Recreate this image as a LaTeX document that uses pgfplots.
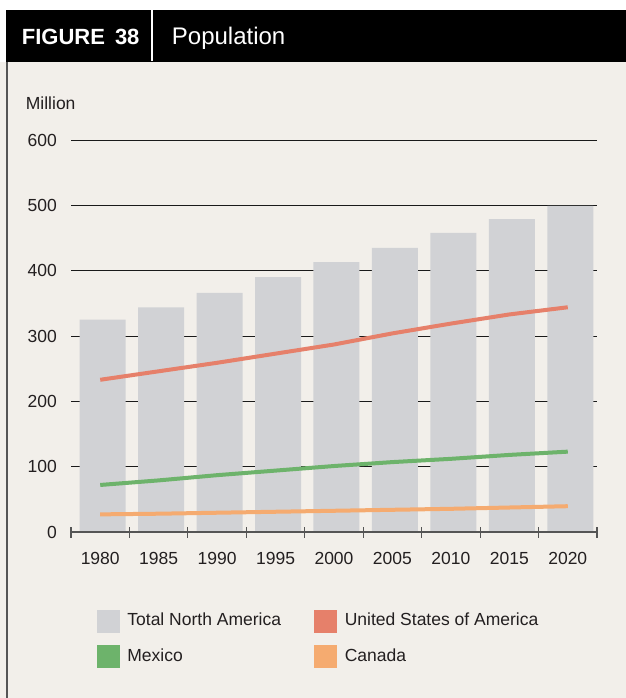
\documentclass[border=0pt]{standalone}
\usepackage{fontspec}
\setmainfont{Liberation Sans}
\usepackage{pgfplots}
\pgfplotsset{compat=1.18}
\definecolor{bg}{HTML}{F2EFEA}
\definecolor{barg}{HTML}{D1D2D5}
\definecolor{usc}{HTML}{E6806A}
\definecolor{mxc}{HTML}{6DB36B}
\definecolor{cac}{HTML}{F5AB70}
\definecolor{txt}{HTML}{231F20}
\definecolor{axisc}{HTML}{555555}
\definecolor{gridc}{HTML}{1A1A1A}
\definecolor{bordc}{HTML}{555555}
\begin{document}
\fontsize{17.5bp}{21bp}\selectfont
\begin{tikzpicture}
\useasboundingbox (0,0) rectangle (626bp,-698bp);
\fill[white] (0,0) rectangle (626bp,-698bp);
\fill[bg] (0,-62bp) rectangle (626bp,-698bp);
\fill[black] (6bp,-10bp) rectangle (626bp,-62bp);
\draw[white, line width=2bp] (151.7bp,-10bp) -- (151.7bp,-61bp);
\node[anchor=base west, inner sep=0pt, text=white, font=\fontsize{22bp}{24bp}\selectfont\bfseries] at (21.7bp,-44.3bp) {FIGURE\hspace{10bp}38};
\node[anchor=base west, inner sep=0pt, text=white, font=\fontsize{24bp}{28bp}\selectfont] at (171.7bp,-44.3bp) {Population};
\draw[bordc, line width=1.5bp] (6.75bp,-62bp) -- (6.75bp,-698bp);
\node[anchor=base west, inner sep=0pt, text=txt] at (25.7bp,-109bp) {Million};
\begin{axis}[
  scale only axis, width=526bp, height=392bp,
  at={(71bp,-532bp)}, anchor=south west,
  xmin=-0.5, xmax=8.5, ymin=0, ymax=600,
  axis x line*=bottom, axis y line*=left,
  x axis line style={draw=none},
  y axis line style={draw=none},
  xtick={0,...,8},
  xticklabels={1980,1985,1990,1995,2000,2005,2010,2015,2020},
  major tick length=0pt,
  minor xtick={-0.5,0.5,...,8.5},
  minor tick length=11bp, tick align=center,
  minor tick style={draw=axisc, line width=1.2bp},
  ytick={0,100,...,600}, ytick style={draw=none},
  ymajorgrids, grid style={draw=gridc, line width=0.9bp},
  /pgf/number format/assume math mode=true,
  tick label style={font=\fontsize{17.5bp}{21bp}\selectfont, text=txt},
  yticklabel style={anchor=east, inner sep=0pt, xshift=-14bp},
  xticklabel style={anchor=north, inner sep=0pt, yshift=-19.7bp},
  clip=false,
  legend columns=2,
  legend cell align=left,
  legend style={at={(0,0)}, anchor=north west, xshift=26bp, yshift=-77.5bp,
    draw=none, fill=none, inner sep=0pt, outer sep=0pt, row sep=13bp,
    nodes={inner sep=0pt, text=txt, font=\fontsize{17.5bp}{21bp}\selectfont},
    /tikz/every odd column/.style={column sep=8bp}},
]
\addplot[ybar, bar width=46bp, bar shift=2.5bp, fill=barg, draw=none, forget plot]
  coordinates {(0,325) (1,344) (2,366) (3,390) (4,413) (5,435) (6,458) (7,479) (8,499)};
\addplot[axisc, line width=1.5bp, mark=none, forget plot] coordinates {(-0.5,0) (8.5,0)};
\addplot[usc, line width=4bp, mark=none, forget plot]
  coordinates {(0,233) (1,246) (2,259) (3,273) (4,287) (5,304) (6,319) (7,333) (8,344)};
\addplot[mxc, line width=4bp, mark=none, forget plot]
  coordinates {(0,72) (1,79) (2,87) (3,94) (4,101) (5,107) (6,112) (7,118) (8,123)};
\addplot[cac, line width=4bp, mark=none, forget plot]
  coordinates {(0,27) (1,28) (2,29.5) (3,31) (4,32.5) (5,34) (6,35.5) (7,37.5) (8,39.5)};
\addlegendimage{legend image code/.code={\fill[barg] (0bp,-11bp) rectangle (22bp,11bp);}}
\addlegendentry{\makebox[187bp][l]{Total North America}}
\addlegendimage{legend image code/.code={\fill[usc] (0bp,-11bp) rectangle (22bp,11bp);}}
\addlegendentry{United States of America}
\addlegendimage{legend image code/.code={\fill[mxc] (0bp,-11bp) rectangle (22bp,11bp);}}
\addlegendentry{\makebox[187bp][l]{Mexico}}
\addlegendimage{legend image code/.code={\fill[cac] (0bp,-11bp) rectangle (22bp,11bp);}}
\addlegendentry{Canada}
\end{axis}
\end{tikzpicture}
\end{document}
